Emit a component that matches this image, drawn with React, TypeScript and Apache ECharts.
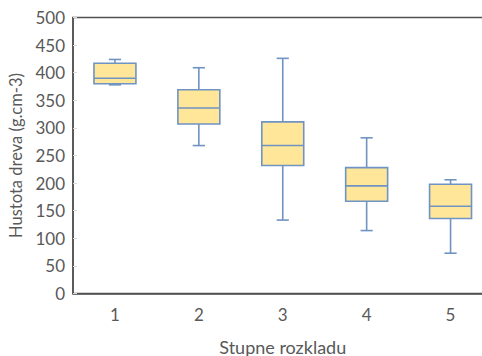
import React, { useEffect, useRef } from "react";
import * as echarts from "echarts";

const categories = ["1", "2", "3", "4", "5"];
const mins = [378, 268, 133, 114, 73];
const q1s = [380, 307, 232, 167, 136];
const medians = [390, 336, 268, 195, 158];
const q3s = [417, 369, 311, 228, 198];
const maxs = [424, 409, 426, 282, 206];

const yTitle = "Hustota dreva (g.cm-3)";
const xTitle = "Stupne rozkladu";

export default function App() {
  const ref = useRef<HTMLDivElement>(null);
  useEffect(() => {
    if (!ref.current) return;
    const chart = echarts.init(ref.current, null, { renderer: "svg" });
    const data = categories.map((_, i) => [i, mins[i], q1s[i], medians[i], q3s[i], maxs[i]]);
    const font = "Lato, 'Open Sans', sans-serif";
    const stroke = "#6F93C2";
    const fill = "#FFE699";
    chart.setOption({
      animation: false,
      backgroundColor: "#ffffff",
      grid: {
        left: 73,
        top: 17.5,
        bottom: 62.5,
        right: -10.5,
        outerBoundsMode: "none",
        containLabel: false,
        show: true,
        borderColor: "#505050",
        borderWidth: 1.5,
      },
      xAxis: {
        type: "category",
        data: categories,
        name: xTitle,
        nameLocation: "middle",
        nameGap: 44,
        nameTextStyle: { color: "#595959", fontSize: 18, fontFamily: font },
        axisLine: { show: true, lineStyle: { color: "#505050", width: 1.5 } },
        axisTick: { show: false },
        axisLabel: { color: "#595959", fontSize: 17, fontFamily: font, margin: 12 },
        splitLine: { show: false },
      },
      yAxis: {
        type: "value",
        min: 0,
        max: 500,
        interval: 50,
        name: yTitle,
        nameLocation: "middle",
        nameGap: 45,
        nameRotate: 90,
        nameTextStyle: { color: "#595959", fontSize: 16.5, fontFamily: font },
        axisLine: { show: true, lineStyle: { color: "#505050", width: 1.5 } },
        axisTick: { show: true, inside: true, length: 4, lineStyle: { color: "#d9d9d9" } },
        axisLabel: { color: "#595959", fontSize: 17, fontFamily: font, margin: 8 },
        splitLine: { show: false },
      },
      series: [
        {
          type: "custom",
          data,
          encode: { x: 0, y: [1, 2, 3, 4, 5] },
          renderItem: (params: any, api: any) => {
            const idx = api.value(0);
            const pMin = api.coord([idx, api.value(1)]);
            const pQ1 = api.coord([idx, api.value(2)]);
            const pMed = api.coord([idx, api.value(3)]);
            const pQ3 = api.coord([idx, api.value(4)]);
            const pMax = api.coord([idx, api.value(5)]);
            const band = api.size([1, 0])[0];
            const bw = band * 0.5;
            const cw = band * 0.145;
            const x = pMed[0];
            const ls = { stroke, lineWidth: 1.6, fill: "none" };
            return {
              type: "group",
              children: [
                { type: "line", shape: { x1: x, y1: pQ3[1], x2: x, y2: pMax[1] }, style: ls },
                { type: "line", shape: { x1: x, y1: pQ1[1], x2: x, y2: pMin[1] }, style: ls },
                { type: "line", shape: { x1: x - cw / 2, y1: pMax[1], x2: x + cw / 2, y2: pMax[1] }, style: ls },
                { type: "line", shape: { x1: x - cw / 2, y1: pMin[1], x2: x + cw / 2, y2: pMin[1] }, style: ls },
                {
                  type: "rect",
                  shape: { x: x - bw / 2, y: pQ3[1], width: bw, height: pQ1[1] - pQ3[1] },
                  style: { fill, stroke, lineWidth: 1.6 },
                },
                { type: "line", shape: { x1: x - bw / 2, y1: pMed[1], x2: x + bw / 2, y2: pMed[1] }, style: ls },
              ],
            };
          },
        },
      ],
    });
    return () => chart.dispose();
  }, []);
  return <div ref={ref} style={{ width: 482, height: 356, position: "absolute", left: 0, top: 0 }} />;
}
